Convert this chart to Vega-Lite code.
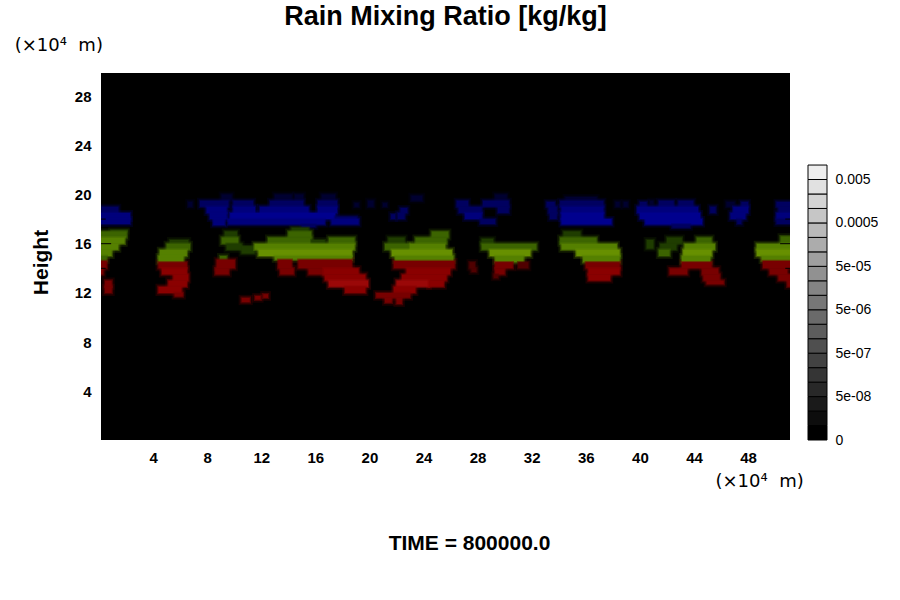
{"$schema":"https://vega.github.io/schema/vega-lite/v6.json","background":"white","padding":{"left":14,"top":2,"right":0,"bottom":0},"bounds":"flush","spacing":18,"config":{"view":{"stroke":null},"font":"Liberation Sans"},
"datasets":{"cells":[
{"x":9.07,"x2":9.81,"y":19.5,"y2":20,"k":"b0"},{"x":13,"x2":14.25,"y":19.5,"y2":20,"k":"b0"},{"x":14.5,"x2":15.1,"y":19.5,"y2":20,"k":"b0"},{"x":16.47,"x2":17.46,"y":19.5,"y2":20,"k":"b0"},{"x":23.1,"x2":23.9,"y":19.5,"y2":19.9,"k":"b0"},{"x":29.3,"x2":30.15,"y":19.5,"y2":20,"k":"b0"},{"x":34.5,"x2":36.8,"y":19.5,"y2":19.8,"k":"b0"},
{"x":7.47,"x2":9.57,"y":19,"y2":19.5,"k":"b1"},{"x":9.94,"x2":11.4,"y":19,"y2":19.5,"k":"b1"},{"x":12.65,"x2":15.1,"y":19,"y2":19.5,"k":"b1"},{"x":16.2,"x2":17.6,"y":19,"y2":19.5,"k":"b1"},{"x":19.9,"x2":20.3,"y":19,"y2":19.5,"k":"b0"},{"x":6.6,"x2":6.9,"y":19,"y2":19.4,"k":"b0"},{"x":18.9,"x2":19.2,"y":19,"y2":19.3,"k":"b0"},{"x":21,"x2":21.3,"y":19,"y2":19.3,"k":"b0"},{"x":26.45,"x2":27.3,"y":19,"y2":19.5,"k":"b1"},{"x":28.4,"x2":30.3,"y":19,"y2":19.5,"k":"b1"},{"x":33.1,"x2":33.7,"y":19,"y2":19.4,"k":"b1"},{"x":34.1,"x2":37.3,"y":19,"y2":19.5,"k":"b1"},{"x":38.2,"x2":38.5,"y":19,"y2":19.4,"k":"b0"},{"x":38.8,"x2":39.1,"y":19,"y2":19.4,"k":"b0"},{"x":40,"x2":40.5,"y":19,"y2":19.4,"k":"b1"},{"x":40.75,"x2":41,"y":19,"y2":19.5,"k":"b0"},{"x":41.4,"x2":42.5,"y":19,"y2":19.5,"k":"b1"},{"x":42.85,"x2":43.95,"y":19,"y2":19.5,"k":"b1"},{"x":46.4,"x2":47,"y":19,"y2":19.4,"k":"b0"},{"x":47.5,"x2":48,"y":19,"y2":19.4,"k":"b1"},{"x":50.1,"x2":51.1,"y":19,"y2":19.4,"k":"b1"},
{"x":0.2,"x2":1.43,"y":18.5,"y2":19,"k":"b1"},{"x":7.96,"x2":9.44,"y":18.5,"y2":19,"k":"b2"},{"x":9.94,"x2":11.54,"y":18.5,"y2":19,"k":"b2"},{"x":11.9,"x2":15.5,"y":18.5,"y2":19,"k":"b2"},{"x":16.2,"x2":17.6,"y":18.5,"y2":19,"k":"b2"},{"x":22.3,"x2":22.8,"y":18.5,"y2":18.9,"k":"b1"},{"x":26.6,"x2":28.3,"y":18.5,"y2":19,"k":"b1"},{"x":29.5,"x2":30.3,"y":18.5,"y2":19,"k":"b1"},{"x":33.25,"x2":33.85,"y":18.5,"y2":19,"k":"b1"},{"x":34.2,"x2":37.3,"y":18.5,"y2":19,"k":"b2"},{"x":39.8,"x2":44.3,"y":18.5,"y2":19,"k":"b2"},{"x":45.2,"x2":45.6,"y":18.5,"y2":19,"k":"b1"},{"x":46.9,"x2":48,"y":18.5,"y2":19,"k":"b2"},{"x":50.25,"x2":51.1,"y":18.5,"y2":19,"k":"b1"},
{"x":0.15,"x2":2.3,"y":18,"y2":18.5,"k":"b2"},{"x":8.2,"x2":9.44,"y":18,"y2":18.5,"k":"b2"},{"x":9.7,"x2":17.45,"y":18,"y2":18.5,"k":"b3"},{"x":17.45,"x2":19.06,"y":18,"y2":18.2,"k":"b1"},{"x":21.6,"x2":21.9,"y":18,"y2":18.4,"k":"b1"},{"x":22.1,"x2":22.6,"y":18,"y2":18.5,"k":"b1"},{"x":27.07,"x2":28.3,"y":18,"y2":18.5,"k":"b2"},{"x":33.35,"x2":33.85,"y":18,"y2":18.5,"k":"b1"},{"x":34.2,"x2":37.3,"y":18,"y2":18.5,"k":"b3"},{"x":40,"x2":44.45,"y":18,"y2":18.5,"k":"b3"},{"x":46.7,"x2":47.8,"y":18,"y2":18.5,"k":"b2"},{"x":50.1,"x2":51.1,"y":18,"y2":18.5,"k":"b2"},
{"x":0.15,"x2":2.3,"y":17.6,"y2":18,"k":"b2"},{"x":8.45,"x2":9.3,"y":17.5,"y2":18,"k":"b2"},{"x":9.56,"x2":16.7,"y":17.55,"y2":18,"k":"b2"},{"x":15,"x2":16,"y":17.35,"y2":17.55,"k":"b1"},{"x":17.2,"x2":19.2,"y":17.55,"y2":18,"k":"b2"},{"x":28.2,"x2":29.3,"y":17.6,"y2":18,"k":"b1"},{"x":34.2,"x2":37.9,"y":17.55,"y2":18,"k":"b3"},{"x":40.4,"x2":44.6,"y":17.55,"y2":18,"k":"b3"},{"x":42.4,"x2":43.7,"y":17.3,"y2":17.55,"k":"b1"},{"x":47.2,"x2":47.5,"y":17.6,"y2":18,"k":"b1"},{"x":50.1,"x2":51.1,"y":17.6,"y2":18,"k":"b1"},
{"x":14.25,"x2":15.5,"y":17,"y2":17.3,"k":"g0"},{"x":0.9,"x2":2.05,"y":17,"y2":17.1,"k":"g0"},
{"x":0.15,"x2":2.05,"y":16.5,"y2":17,"k":"g1"},{"x":9.3,"x2":10.2,"y":16.5,"y2":17,"k":"g0"},{"x":14,"x2":15.7,"y":16.5,"y2":17,"k":"g1"},{"x":24.6,"x2":25.84,"y":16.5,"y2":17,"k":"g1"},{"x":34.35,"x2":35.6,"y":16.5,"y2":17,"k":"g0"},
{"x":0.15,"x2":1.9,"y":16,"y2":16.5,"k":"g2"},{"x":9.07,"x2":10.3,"y":16,"y2":16.5,"k":"g1"},{"x":5.25,"x2":6.6,"y":16,"y2":16.3,"k":"g0"},{"x":12.5,"x2":15.7,"y":16,"y2":16.5,"k":"g1"},{"x":15.7,"x2":16.7,"y":16,"y2":16.3,"k":"g0"},{"x":17,"x2":18.9,"y":16,"y2":16.5,"k":"g1"},{"x":21.4,"x2":22.6,"y":16,"y2":16.5,"k":"g0"},{"x":23.4,"x2":25.7,"y":16,"y2":16.5,"k":"g1"},{"x":28.3,"x2":29.15,"y":16,"y2":16.4,"k":"g0"},{"x":34.1,"x2":36.8,"y":16,"y2":16.5,"k":"g1"},{"x":40.5,"x2":41,"y":15.6,"y2":16.3,"k":"g0"},{"x":42,"x2":43.1,"y":16,"y2":16.5,"k":"g0"},{"x":44.2,"x2":45.3,"y":16,"y2":16.5,"k":"g1"},{"x":50.4,"x2":51.1,"y":16,"y2":16.6,"k":"g1"},
{"x":0.15,"x2":1.43,"y":15.5,"y2":16,"k":"g2"},{"x":5,"x2":6.73,"y":15.5,"y2":16,"k":"g1"},{"x":9.44,"x2":10.55,"y":15.5,"y2":16,"k":"g0"},{"x":10.55,"x2":11.5,"y":15.2,"y2":15.8,"k":"g0"},{"x":11.5,"x2":18.9,"y":15.5,"y2":16,"k":"g2"},{"x":21.15,"x2":23,"y":15.5,"y2":16,"k":"g1"},{"x":23,"x2":25.6,"y":15.5,"y2":16,"k":"g2"},{"x":28.3,"x2":32.35,"y":15.5,"y2":16,"k":"g1"},{"x":34.2,"x2":38.3,"y":15.5,"y2":16,"k":"g2"},{"x":41.5,"x2":42.7,"y":15.5,"y2":16,"k":"g0"},{"x":43.3,"x2":45.55,"y":15.5,"y2":16,"k":"g2"},{"x":48.64,"x2":51.1,"y":15.5,"y2":16,"k":"g2"},
{"x":0.15,"x2":0.94,"y":15,"y2":15.5,"k":"g2"},{"x":4.5,"x2":6.5,"y":15,"y2":15.5,"k":"g2"},{"x":11.8,"x2":18.7,"y":15,"y2":15.5,"k":"g3"},{"x":21.65,"x2":26.1,"y":15,"y2":15.5,"k":"g3"},{"x":28.9,"x2":31.9,"y":15,"y2":15.5,"k":"g3"},{"x":35.3,"x2":38.5,"y":15,"y2":15.5,"k":"g3"},{"x":41.4,"x2":42.2,"y":15,"y2":15.5,"k":"g1"},{"x":43.2,"x2":45.3,"y":15,"y2":15.5,"k":"g3"},{"x":48.64,"x2":51.1,"y":15,"y2":15.5,"k":"g3"},
{"x":0.15,"x2":0.57,"y":14.6,"y2":15,"k":"g1"},{"x":4.4,"x2":6.25,"y":14.5,"y2":15,"k":"g2"},{"x":8.95,"x2":9.44,"y":14.7,"y2":15,"k":"g1"},{"x":13,"x2":18.7,"y":14.7,"y2":15,"k":"g2"},{"x":21.9,"x2":26.2,"y":14.6,"y2":15,"k":"g2"},{"x":29.3,"x2":31.4,"y":14.5,"y2":15,"k":"g2"},{"x":35.8,"x2":38.5,"y":14.5,"y2":15,"k":"g2"},{"x":43.1,"x2":45.2,"y":14.5,"y2":15,"k":"g2"},{"x":49,"x2":51.1,"y":14.6,"y2":15,"k":"g2"},
{"x":0.15,"x2":0.57,"y":14,"y2":14.6,"k":"r1"},{"x":4.4,"x2":6.5,"y":14,"y2":14.5,"k":"r1"},{"x":8.7,"x2":10.05,"y":14,"y2":14.7,"k":"r1"},{"x":13.26,"x2":14.25,"y":14,"y2":14.7,"k":"r1"},{"x":14.75,"x2":18.7,"y":14,"y2":14.7,"k":"r1"},{"x":21.8,"x2":26.3,"y":14,"y2":14.6,"k":"r1"},{"x":29.3,"x2":30.6,"y":14,"y2":14.5,"k":"r1"},{"x":31,"x2":31.75,"y":14,"y2":14.5,"k":"r0"},{"x":27.4,"x2":27.8,"y":14,"y2":14.5,"k":"r0"},{"x":36,"x2":38.5,"y":14,"y2":14.5,"k":"r1"},{"x":43.1,"x2":45.3,"y":14,"y2":14.5,"k":"r1"},{"x":49.1,"x2":51.1,"y":14,"y2":14.6,"k":"r1"},
{"x":0.15,"x2":0.32,"y":13.5,"y2":14,"k":"r1"},{"x":4.65,"x2":6.5,"y":13.5,"y2":14,"k":"r2"},{"x":8.6,"x2":9.6,"y":13.5,"y2":14,"k":"r1"},{"x":13.4,"x2":14.4,"y":13.5,"y2":14,"k":"r1"},{"x":15.5,"x2":16.6,"y":13.5,"y2":14,"k":"r1"},{"x":16.6,"x2":19.2,"y":13.5,"y2":14,"k":"r2"},{"x":22.75,"x2":25.96,"y":13.5,"y2":14,"k":"r2"},{"x":27.55,"x2":27.9,"y":13.7,"y2":14,"k":"r0"},{"x":29.3,"x2":30,"y":13.5,"y2":14,"k":"r1"},{"x":36.2,"x2":38.5,"y":13.5,"y2":14,"k":"r2"},{"x":42.2,"x2":43.5,"y":13.5,"y2":14,"k":"r1"},{"x":44.6,"x2":45.8,"y":13.5,"y2":14,"k":"r1"},{"x":49.6,"x2":50.9,"y":13.5,"y2":14,"k":"r1"},
{"x":5.5,"x2":6.6,"y":13,"y2":13.5,"k":"r2"},{"x":16.7,"x2":19.7,"y":13,"y2":13.5,"k":"r2"},{"x":22.4,"x2":25.7,"y":13,"y2":13.5,"k":"r2"},{"x":29.2,"x2":29.5,"y":13.2,"y2":13.5,"k":"r0"},{"x":36.2,"x2":37.8,"y":13,"y2":13.5,"k":"r2"},{"x":44.7,"x2":45.9,"y":13,"y2":13.5,"k":"r1"},{"x":50.25,"x2":51.1,"y":13,"y2":13.5,"k":"r1"},
{"x":0.45,"x2":0.94,"y":12.5,"y2":13,"k":"r1"},{"x":5.13,"x2":6.5,"y":12.5,"y2":13,"k":"r2"},{"x":17,"x2":19.9,"y":12.5,"y2":13,"k":"r3"},{"x":22,"x2":24.4,"y":12.5,"y2":13,"k":"r3"},{"x":24.4,"x2":25.5,"y":12.5,"y2":13,"k":"r2"},{"x":44.94,"x2":46.2,"y":12.7,"y2":13,"k":"r1"},{"x":50.9,"x2":51.1,"y":12.5,"y2":13,"k":"r1"},
{"x":0.45,"x2":0.94,"y":12,"y2":12.5,"k":"r1"},{"x":4.4,"x2":6.1,"y":12,"y2":12.5,"k":"r2"},{"x":18.2,"x2":19.7,"y":12,"y2":12.5,"k":"r2"},{"x":21.8,"x2":23.4,"y":12,"y2":12.5,"k":"r2"},
{"x":5.6,"x2":6.2,"y":11.7,"y2":12,"k":"r1"},{"x":20.5,"x2":23,"y":11.6,"y2":12,"k":"r1"},{"x":21.15,"x2":21.65,"y":11.2,"y2":11.6,"k":"r1"},{"x":22,"x2":22.4,"y":11.1,"y2":11.6,"k":"r1"},{"x":10.55,"x2":11.15,"y":11.25,"y2":11.6,"k":"r1"},{"x":11.55,"x2":11.95,"y":11.45,"y2":11.75,"k":"r1"},{"x":12.15,"x2":12.5,"y":11.6,"y2":11.9,"k":"r1"}
]},
"hconcat":[
{"width":689,"height":367,"view":{"fill":"#000000"},"title":{"text":"Rain Mixing Ratio [kg/kg]","fontSize":27,"fontWeight":"bold","font":"Liberation Sans","color":"#000","anchor":"middle","offset":6},
"encoding":{"x":{"field":"x","type":"quantitative","scale":{"domain":[0.15,51.1],"nice":false,"zero":false},"axis":{"values":[4,8,12,16,20,24,28,32,36,40,44,48],"grid":false,"domain":false,"ticks":false,"labelFontSize":15,"labelFontWeight":"bold","labelColor":"#000","labelPadding":10,"title":"TIME = 800000.0","titleFontSize":21,"titleFontWeight":"bold","titleColor":"#000","titleX":368,"titleY":92,"titleAlign":"center"}},"y":{"field":"y","type":"quantitative","scale":{"domain":[0.05,29.87],"nice":false,"zero":false},"axis":{"values":[4,8,12,16,20,24,28],"grid":false,"domain":false,"ticks":false,"labelFontSize":15,"labelFontWeight":"bold","labelColor":"#000","labelPadding":10,"title":"Height","titleFontSize":21,"titleFontWeight":"bold","titleColor":"#000","titleX":-50,"titleY":189,"titleAlign":"center"}}},
"layer":[
{"data":{"name":"cells"},"mark":{"type":"rect","clip":true,"strokeWidth":6,"strokeOpacity":0.2,"fillOpacity":0},"encoding":{"x2":{"field":"x2"},"y2":{"field":"y2"},"stroke":{"field":"k","type":"nominal","legend":null,"scale":{"domain":["b0","b1","b2","b3","g0","g1","g2","g3","r0","r1","r2","r3"],"range":["#000030","#000060","#00007c","#00008e","#1f3d00","#3c6400","#558000","#679000","#500000","#780000","#8a0000","#9a0808"]}}}},
{"data":{"name":"cells"},"mark":{"type":"rect","clip":true,"strokeWidth":2.5,"strokeOpacity":0.5,"fillOpacity":1},"encoding":{"x2":{"field":"x2"},"y2":{"field":"y2"},"fill":{"field":"k","type":"nominal","legend":null,"scale":{"domain":["b0","b1","b2","b3","g0","g1","g2","g3","r0","r1","r2","r3"],"range":["#000030","#000060","#00007c","#00008e","#1f3d00","#3c6400","#558000","#679000","#500000","#780000","#8a0000","#9a0808"]}},"stroke":{"field":"k","type":"nominal","legend":null}}},
{"data":{"values":[{"x":0.15,"x2":0.9,"y":16},{"x":0.15,"x2":0.5,"y":18},{"x":0.15,"x2":0.5,"y":14},{"x":50.37,"x2":51.1,"y":16},{"x":50.75,"x2":51.1,"y":18},{"x":50.75,"x2":51.1,"y":14}]},"mark":{"type":"rule","color":"#000","strokeWidth":1},"encoding":{"x2":{"field":"x2"}}},
{"data":{"values":[{"x":-2.97,"y":32.1,"t":"(×10⁴\u00a0\u00a0m)"},{"x":48.85,"y":-3.33,"t":"(×10⁴\u00a0\u00a0m)"}]},"mark":{"type":"text","font":"DejaVu Sans","fontSize":18,"color":"#000","align":"center","baseline":"middle"},"encoding":{"text":{"field":"t"}}}
]},
{"width":19,"height":367,"data":{"values":[{"lo":0,"hi":1,"s":0},{"lo":1,"hi":2,"s":1},{"lo":2,"hi":3,"s":2},{"lo":3,"hi":4,"s":3},{"lo":4,"hi":5,"s":4},{"lo":5,"hi":6,"s":5},{"lo":6,"hi":7,"s":6},{"lo":7,"hi":8,"s":7},{"lo":8,"hi":9,"s":8},{"lo":9,"hi":10,"s":9},{"lo":10,"hi":11,"s":10},{"lo":11,"hi":12,"s":11},{"lo":12,"hi":13,"s":12},{"lo":13,"hi":14,"s":13},{"lo":14,"hi":15,"s":14},{"lo":15,"hi":16,"s":15},{"lo":16,"hi":17,"s":16},{"lo":17,"hi":18,"s":17},{"lo":18,"hi":19,"s":18}]},"mark":{"type":"rect","stroke":"#000","strokeWidth":1},"encoding":{"y":{"field":"lo","type":"quantitative","scale":{"domain":[0,25.36],"nice":false,"zero":false},"axis":{"orient":"right","values":[0,3,6,9,12,15,18],"labelExpr":"['0','5e-08','5e-07','5e-06','5e-05','0.0005','0.005'][datum.value/3]","grid":false,"domain":false,"ticks":false,"labelFontSize":14,"labelColor":"#000","labelPadding":8,"title":null}},"y2":{"field":"hi"},"color":{"field":"s","type":"quantitative","legend":null,"scale":{"domain":[0,18],"range":["#000000","#eeeeee"],"interpolate":"rgb"}}}}
]}
